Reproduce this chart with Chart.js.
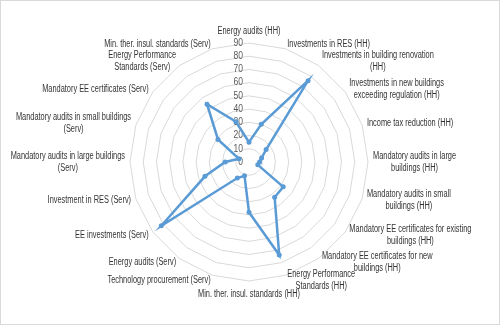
<!DOCTYPE html>
<html><head><meta charset="utf-8">
<script src="https://cdn.jsdelivr.net/npm/chart.js@4"></script>
<style>
html,body{margin:0;padding:0;background:#fff;}
#wrap{width:500px;height:325px;box-sizing:border-box;border:1px solid #d9d9d9;background:#fff;}
canvas{display:block;}
</style></head><body>
<div id="wrap"><canvas id="c" width="498" height="323"></canvas></div>
<script>
// Categories (clockwise from top); arrays are wrapped lines
const categories = [
  'Energy audits (HH)',
  'Investments in RES (HH)',
  ['Investments in building renovation', '(HH)'],
  ['Investments in new buildings', 'exceeding regulation (HH)'],
  'Income tax reduction (HH)',
  ['Mandatory audits in large', 'buildings (HH)'],
  ['Mandatory audits in small', 'buildings (HH)'],
  ['Mandatory EE certificates for existing', 'buildings (HH)'],
  ['Mandatory EE certificates for new', 'buildings (HH)'],
  ['Energy Performance', 'Standards (HH)'],
  'Min. ther. insul. standards (HH)',
  'Technology procurement (Serv)',
  'Energy audits (Serv)',
  'EE investments (Serv)',
  'Investment in RES (Serv)',
  ['Mandatory audits in large buildings', '(Serv)'],
  ['Mandatory audits in small buildings', '(Serv)'],
  'Mandatory EE certificates (Serv)',
  ['Energy Performance', 'Standards (Serv)'],
  'Min. ther. insul. standards (Serv)'
];
const values = [15, 30, 76, 16, 10, 8, 7, 32, 33, 74, 38, 11, 15, 82, 35, 18, 8, 29, 54, 32];
const tickValues = [0, 10, 20, 30, 40, 50, 60, 70, 80, 90];
const tickLabels = ['0', '10', '20', '30', '40', '50', '60', '70', '80', '90'];

const FONT_FAMILY = '"Liberation Sans", Arial, sans-serif';
const LABEL_SX = 0.74;   // horizontal condensing of label text
const TICK_SX = 0.85;

function drawCondensed(ctx, text, x, y, sx) {
  ctx.save();
  ctx.translate(x, y);
  ctx.scale(sx, 1);
  ctx.fillText(text, 0, 0);
  ctx.restore();
}

const excelLabels = {
  id: 'excelLabels',
  beforeDatasetsDraw(chart) {
    const s = chart.scales.r;
    const ctx = chart.ctx;
    ctx.save();
    ctx.font = '10px ' + FONT_FAMILY;
    ctx.fillStyle = '#595959';
    ctx.textAlign = 'right';
    ctx.textBaseline = 'middle';
    tickValues.forEach((v, i) => {
      const d = s.getDistanceFromCenterForValue(v);
      drawCondensed(ctx, tickLabels[i], s.xCenter - 6, s.yCenter - d, TICK_SX);
    });
    ctx.restore();
  },
  afterDraw(chart) {
    const s = chart.scales.r;
    const ctx = chart.ctx;
    const n = categories.length;
    const lh = 12;
    ctx.save();
    ctx.font = '10px ' + FONT_FAMILY;
    ctx.fillStyle = '#333333';
    ctx.textAlign = 'center';
    ctx.textBaseline = 'middle';
    categories.forEach((lab, i) => {
      const lines = Array.isArray(lab) ? lab : [lab];
      const p = s.getPointPosition(i, s.drawingArea + 5);
      const w = Math.max(...lines.map(l => ctx.measureText(l).width)) * LABEL_SX;
      const h = lines.length * lh;
      const deg = Math.round(i * 360 / n);
      let cx, cy = p.y;
      if (deg === 0 || deg === 180) cx = p.x;
      else if (deg < 180) cx = p.x + w / 2;
      else cx = p.x - w / 2;
      if (deg === 0) cy = p.y - h / 2 - 1;
      else if (deg === 180) cy = p.y + h / 2 + 2;
      lines.forEach((l, k) => drawCondensed(ctx, l, cx, cy - h / 2 + lh / 2 + k * lh, LABEL_SX));
    });
    ctx.restore();
  }
};

new Chart(document.getElementById('c'), {
  type: 'radar',
  data: {
    labels: categories,
    datasets: [{
      data: values,
      borderColor: '#5b9bd5',
      backgroundColor: '#5b9bd5',
      borderWidth: 2.5,
      fill: false,
      pointRadius: 2.5,
      pointBorderWidth: 0,
      pointBackgroundColor: '#5b9bd5',
      tension: 0
    }]
  },
  options: {
    responsive: false,
    animation: false,
    layout: { padding: { top: 42, bottom: 43, left: 129, right: 131 } },
    plugins: { legend: { display: false }, tooltip: { enabled: false } },
    scales: {
      r: {
        min: 0,
        max: 90,
        ticks: { display: false, stepSize: 10 },
        grid: { color: '#d9d9d9', lineWidth: 1, circular: false },
        angleLines: { display: false },
        pointLabels: { display: false }
      }
    }
  },
  plugins: [excelLabels]
});
</script>
</body></html>
